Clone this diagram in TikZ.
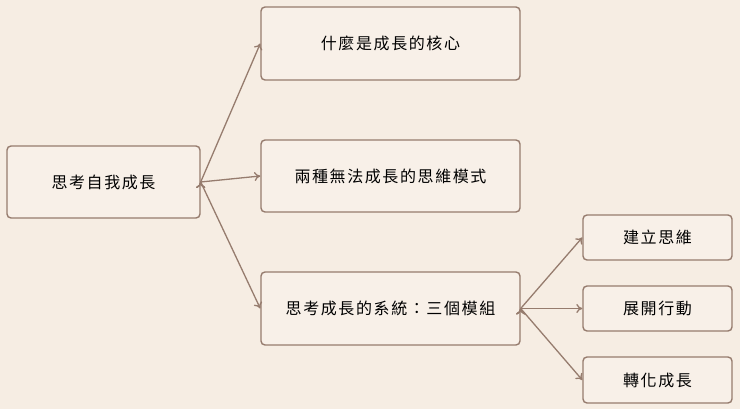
\documentclass[tikz,border=0pt]{standalone}
\usepackage{fontspec}
\usetikzlibrary{arrows.meta}
\setmainfont{Noto Sans CJK TC}[LetterSpace=10]
\definecolor{bgc}{RGB}{246,237,227}
\definecolor{boxc}{RGB}{248,240,232}
\definecolor{linec}{RGB}{150,124,110}
\tikzset{topic/.style={draw=linec, fill=boxc, line width=1.4pt, rounded corners=4pt, font=\fontsize{16}{18}\selectfont, inner sep=0pt}}
\begin{document}
\begin{tikzpicture}[x=1pt, y=-1pt, line width=1.3pt, >={To[length=6pt,width=9pt]}]
            \fill[bgc] (0,0) rectangle (740,409);
            \useasboundingbox (0,0) rectangle (740,409);
            \node[topic, minimum width=193pt, minimum height=72pt] (Root) at (103.5,182) {思考自我成長};

            \node[topic, minimum width=259pt, minimum height=73pt] (Core) at (390.5,43.5) {什麼是成長的核心};
            \node[topic, minimum width=259pt, minimum height=72pt] (Modes) at (390.5,176) {兩種無法成長的思維模式};
            \node[topic, minimum width=259pt, minimum height=73pt] (System) at (390.5,308.5) {思考成長的系統：三個模組};
            \path [->, draw=linec] (Root.east) edge (Core.west);
            \path [->, draw=linec] (Root.east) edge (Modes.west);
            \path [->, draw=linec] (Root.east) edge (System.west);

            \node[topic, minimum width=149pt, minimum height=45pt] (Think) at (657.5,237.5) {建立思維};
            \node[topic, minimum width=149pt, minimum height=45pt] (Act) at (657.5,308.5) {展開行動};
            \node[topic, minimum width=149pt, minimum height=46pt] (Grow) at (657.5,380) {轉化成長};
            \path [->, draw=linec] (System.east) edge (Think.west);
            \path [->, draw=linec] (System.east) edge (Act.west);
            \path [->, draw=linec] (System.east) edge (Grow.west);
\end{tikzpicture}
\end{document}
